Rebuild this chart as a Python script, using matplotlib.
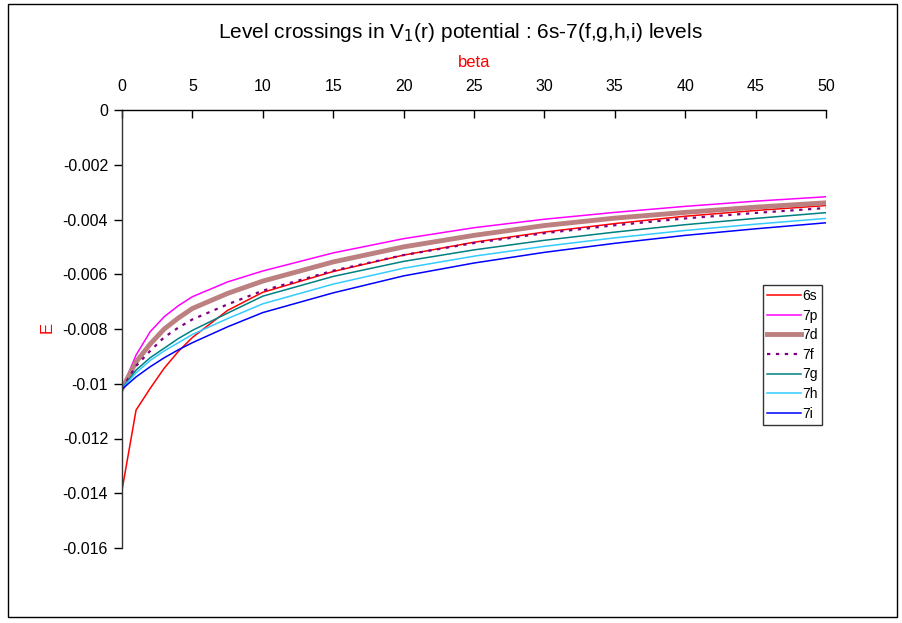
import matplotlib
matplotlib.use("Agg")
import matplotlib.pyplot as plt
from matplotlib.patches import Rectangle

plt.rcParams['font.family'] = ['Liberation Sans', 'DejaVu Sans']
plt.rcParams['axes.unicode_minus'] = False

beta = [0, 1, 2, 3, 4, 5, 7.5, 10, 15, 20, 25, 30, 35, 40, 45, 50]
E_6s = [-13.89, -10.96, -10.17, -9.43, -8.82, -8.31, -7.32, -6.66, -5.90, -5.30, -4.83, -4.46, -4.15, -3.88, -3.67, -3.49]
E_7p = [-10.18, -8.95, -8.10, -7.55, -7.15, -6.82, -6.28, -5.88, -5.22, -4.70, -4.30, -3.99, -3.74, -3.52, -3.33, -3.17]
E_7d = [-10.18, -9.20, -8.55, -8.00, -7.60, -7.25, -6.70, -6.25, -5.55, -5.00, -4.58, -4.22, -3.95, -3.74, -3.55, -3.39]
E_7f = [-10.18, -9.35, -8.80, -8.30, -7.95, -7.65, -7.10, -6.60, -5.87, -5.30, -4.86, -4.50, -4.21, -3.96, -3.76, -3.58]
E_7g = [-10.18, -9.50, -9.05, -8.70, -8.35, -8.05, -7.42, -6.80, -6.08, -5.53, -5.11, -4.76, -4.46, -4.19, -3.96, -3.75]
E_7h = [-10.19, -9.60, -9.15, -8.80, -8.50, -8.20, -7.62, -7.08, -6.36, -5.78, -5.34, -4.98, -4.67, -4.40, -4.17, -3.96]
E_7i = [-10.20, -9.75, -9.38, -9.05, -8.76, -8.50, -7.92, -7.40, -6.68, -6.06, -5.59, -5.20, -4.87, -4.58, -4.34, -4.12]

series = [
    ("6s", E_6s, dict(color="#FF0000", lw=1.1)),
    ("7p", E_7p, dict(color="#FF00FF", lw=1.1)),
    ("7d", E_7d, dict(color="#BC8080", lw=3.5)),
    ("7f", E_7f, dict(color="#800080", lw=1.6, linestyle=(0, (1.5, 2.5)))),
    ("7g", E_7g, dict(color="#008080", lw=1.1)),
    ("7h", E_7h, dict(color="#33CCFF", lw=1.1)),
    ("7i", E_7i, dict(color="#0000FF", lw=1.1)),
]

fig = plt.figure(figsize=(9.02, 6.23), dpi=100)
ax = fig.add_axes([122/902, 1-548/623, (826-122)/902, (548-110)/623])

for name, vals, st in series:
    ax.plot(beta, [v * 1e-3 for v in vals], label=name, **st)

ax.set_xlim(0, 50)
ax.set_ylim(-0.016, 0)
ax.set_xticks(range(0, 51, 5))
ax.set_yticks([0, -0.002, -0.004, -0.006, -0.008, -0.010, -0.012, -0.014, -0.016])
ax.set_yticklabels(["0", "-0.002", "-0.004", "-0.006", "-0.008", "-0.01", "-0.012", "-0.014", "-0.016"])
ax.xaxis.tick_top()
ax.xaxis.set_label_position('top')
ax.tick_params(axis='x', direction='in', length=6, width=1, labelsize=11.5, pad=11.5, top=True, bottom=False)
ax.tick_params(axis='y', direction='out', length=6, width=1, labelsize=11.5, pad=4)
for s in ['right', 'bottom']:
    ax.spines[s].set_visible(False)
ax.spines['top'].set_linewidth(1)
ax.spines['left'].set_linewidth(1)
ax.spines['left'].set_color('#333333')

ax.set_xlabel("beta", color="red", fontsize=12, labelpad=9)
fig.text(47/902, 1-327/623, "E", color="red", fontsize=12, rotation=90, ha='center', va='center')

fig.text(460/902, 1-32/623, "Level crossings in V$_1$(r) potential : 6s-7(f,g,h,i) levels",
         ha='center', va='center', fontsize=15)

leg = ax.legend(loc='upper left', bbox_to_anchor=(763/902, 1-285/623), bbox_transform=fig.transFigure,
                fontsize=10, frameon=True, fancybox=False, edgecolor='black', borderaxespad=0,
                handlelength=2.4, handletextpad=0.15, labelspacing=0.4, borderpad=0.3)
leg.get_frame().set_linewidth(1)

fig.patches.append(Rectangle((8/902, 1-617/623), (897-8)/902, (617-4)/623, transform=fig.transFigure,
                             fill=False, edgecolor='black', lw=1))

fig.savefig("out.png", dpi=100)
